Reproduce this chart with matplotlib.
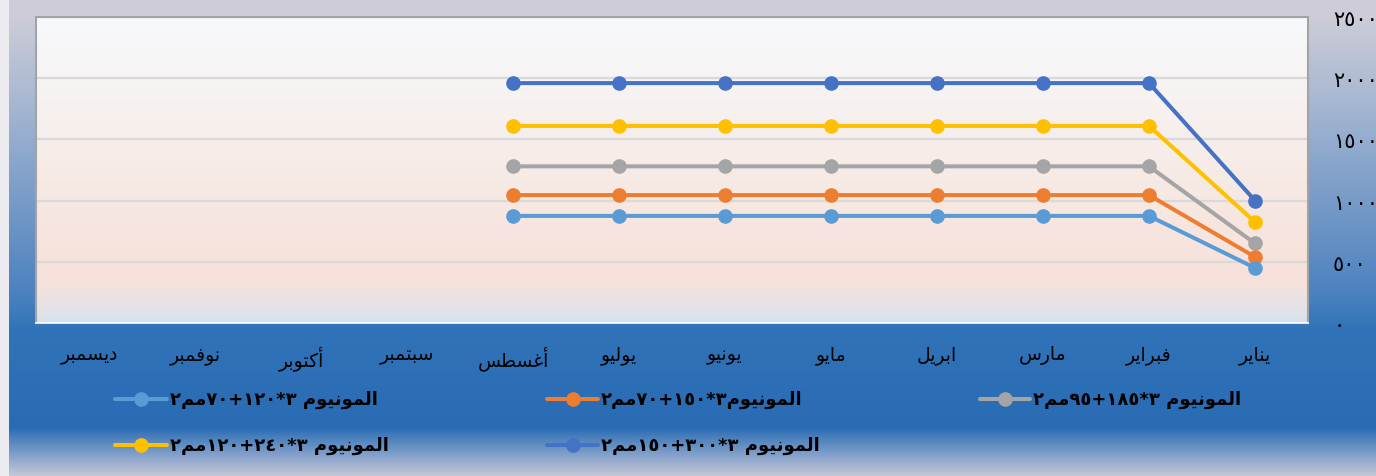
import numpy as np
import matplotlib
matplotlib.use("Agg")
import matplotlib.pyplot as plt
from matplotlib.lines import Line2D

# ---------------- data ----------------
months = ["يناير", "فبراير", "مارس", "ابريل", "مايو", "يونيو",
          "يوليو", "أغسطس", "سبتمبر", "أكتوبر", "نوفمبر", "ديسمبر"]
nan = np.nan
name_300 = "المونيوم ٣*٣٠٠+١٥٠مم٢"
name_240 = "المونيوم ٣*٢٤٠+١٢٠مم٢"
name_185 = "المونيوم ٣*١٨٥+٩٥مم٢"
name_150 = "المونيوم٣*١٥٠+٧٠مم٢"
name_120 = "المونيوم ٣*١٢٠+٧٠مم٢"
al_300 = [1000, 1960, 1960, 1960, 1960, 1960, 1960, 1960, nan, nan, nan, nan]
al_240 = [825, 1610, 1610, 1610, 1610, 1610, 1610, 1610, nan, nan, nan, nan]
al_185 = [650, 1280, 1280, 1280, 1280, 1280, 1280, 1280, nan, nan, nan, nan]
al_150 = [540, 1045, 1045, 1045, 1045, 1045, 1045, 1045, nan, nan, nan, nan]
al_120 = [450, 875, 875, 875, 875, 875, 875, 875, nan, nan, nan, nan]
y_ticks = [0, 500, 1000, 1500, 2000, 2500]

# ------------- simple Arabic shaping -------------
FORMS = {
    "ا": (0xFE8D, "R"), "أ": (0xFE83, "R"), "ب": (0xFE8F, "D"),
    "ت": (0xFE95, "D"), "د": (0xFEA9, "R"), "ر": (0xFEAD, "R"),
    "س": (0xFEB1, "D"), "ط": (0xFEC1, "D"), "غ": (0xFECD, "D"),
    "ف": (0xFED1, "D"), "ك": (0xFED9, "D"), "ل": (0xFEDD, "D"),
    "م": (0xFEE1, "D"), "ن": (0xFEE5, "D"), "و": (0xFEED, "R"),
    "ي": (0xFEF1, "D"),
}


def shape(s):
    out = []
    n = len(s)
    for i, ch in enumerate(s):
        if ch not in FORMS:
            out.append(ch)
            continue
        base, jt = FORMS[ch]
        prev = s[i - 1] if i > 0 else ""
        nxt = s[i + 1] if i < n - 1 else ""
        jp = prev in FORMS and FORMS[prev][1] == "D"
        jn = jt == "D" and nxt in FORMS
        if jp and jn:
            code = base + 3
        elif jp:
            code = base + 1
        elif jn:
            code = base + 2
        else:
            code = base
        out.append(chr(code))
    return out


def visual(s):
    tokens = []
    for ch in shape(s):
        if ch.isdigit() and tokens and tokens[-1][-1].isdigit():
            tokens[-1] += ch
        else:
            tokens.append(ch)
    return "".join(reversed(tokens))


AR_DIGITS = str.maketrans("0123456789", "٠١٢٣٤٥٦٧٨٩")

plt.rcParams["font.family"] = ["DejaVu Sans"]

W, H = 1376, 477
fig = plt.figure(figsize=(W / 100, H / 100), dpi=100)

# ------------- figure background gradient -------------
bg = fig.add_axes([0, 0, 1, 1], zorder=-10)
yy = np.arange(H)
py = [0, 18, 100, 200, 300, 330, 428, 455, 477]
R = np.interp(yy, py, [205, 205, 168, 120, 72, 48, 42, 130, 200])
G = np.interp(yy, py, [204, 204, 184, 155, 128, 115, 108, 160, 200])
B = np.interp(yy, py, [216, 216, 210, 200, 190, 184, 180, 202, 213])
img = np.ones((H, W, 3))
img[:, :, 0] = R[:, None] / 255
img[:, :, 1] = G[:, None] / 255
img[:, :, 2] = B[:, None] / 255
img[:, :9, :] = np.array([236, 236, 240]) / 255
bg.imshow(img, aspect="auto", extent=[0, 1, 0, 1], origin="upper")
bg.set_axis_off()

# ------------- plot area -------------
L, Rr, T, Bt = 36, 1308, 18, 324
ax = fig.add_axes([L / W, 1 - Bt / H, (Rr - L) / W, (Bt - T) / H])
ph = np.arange(T, Bt)
pyy = [18, 100, 200, 280, 305, 324]
pr = np.interp(ph, pyy, [246, 246, 247, 246, 232, 213])
pg = np.interp(ph, pyy, [249, 242, 232, 225, 226, 226])
pb = np.interp(ph, pyy, [252, 241, 226, 218, 230, 238])
pimg = np.stack([pr, pg, pb], axis=1)[:, None, :] / 255
ax.imshow(pimg, aspect="auto", extent=[0, 1, 0, 1], transform=ax.transAxes,
          origin="upper", zorder=0)

x = np.arange(len(months))
series = [
    (al_300, "#4472C4", name_300),
    (al_240, "#FFC000", name_240),
    (al_185, "#A5A5A5", name_185),
    (al_150, "#ED7D31", name_150),
    (al_120, "#5B9BD5", name_120),
]
for vals, col, nm in series:
    ax.plot(x, vals, color=col, lw=2.9, marker="o", ms=9.5,
            solid_capstyle="round", zorder=5, clip_on=False)

ax.set_xlim(-0.5, len(months) - 0.5)
ax.invert_xaxis()
ax.set_ylim(0, 2500)
ax.set_yticks(y_ticks)
ax.yaxis.tick_right()
ax.set_yticklabels([str(v).translate(AR_DIGITS) for v in y_ticks])
ax.tick_params(axis="y", length=0, pad=18, labelsize=15, labelcolor="black")
for lab in ax.get_yticklabels():
    lab.set_horizontalalignment("left")
ax.set_xticks(x)
ax.set_xticklabels([visual(m) for m in months])
ax.tick_params(axis="x", length=0, pad=16, labelsize=13.5, labelcolor="black")
ax.grid(axis="y", color="#d9d9d9", lw=1.6, zorder=1)
ax.set_axisbelow(True)
for s in ["left", "top", "right"]:
    ax.spines[s].set_color("#a3a3a3")
    ax.spines[s].set_linewidth(1.5)
ax.spines["bottom"].set_color("white")
ax.spines["bottom"].set_linewidth(1.2)

# ------------- legend (manual, RTL layout) -------------
leg_items = [
    (series[4], 115, 167, 400),
    (series[3], 547, 598, 400),
    (series[2], 980, 1030, 400),
    (series[1], 115, 167, 446),
    (series[0], 547, 598, 446),
]
for (vals, col, nm), x0, x1, yc in leg_items:
    yf = 1 - yc / H
    fig.add_artist(Line2D([x0 / W, x1 / W], [yf, yf], color=col, lw=2.9,
                          solid_capstyle="round"))
    fig.add_artist(Line2D([(x0 + x1) / 2 / W], [yf], color=col, marker="o",
                          ms=9.5, lw=0))
    fig.text((x1 + 3) / W, yf, visual(nm), ha="left", va="center",
             fontsize=13, fontweight="bold", color="black")

fig.savefig("out.png", dpi=100)
